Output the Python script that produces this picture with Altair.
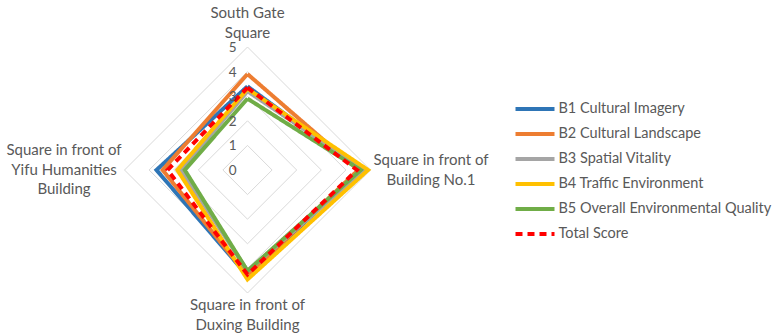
import altair as alt
import pandas as pd

categories = ["South Gate\nSquare", "Square in front of\nBuilding No.1",
              "Square in front of\nDuxing Building",
              "Square in front of\nYifu Humanities\nBuilding"]
series = ["B1 Cultural Imagery", "B2 Cultural Landscape", "B3 Spatial Vitality",
          "B4 Traffic Environment", "B5 Overall Environmental Quality", "Total Score"]
b1 = [3.4, 4.6, 4.3, 3.7]
b2 = [3.9, 4.5, 4.3, 3.45]
b3 = [3.2, 4.75, 4.1, 2.7]
b4 = [3.3, 4.9, 4.45, 2.85]
b5 = [2.9, 4.6, 4.1, 2.55]
total = [3.35, 4.45, 4.25, 3.25]
tick_levels = [0, 1, 2, 3, 4, 5]
colors = ["#2E75B6", "#ED7D31", "#A5A5A5", "#FFC000", "#70AD47", "#FF0000"]
dashes = [[1, 0], [1, 0], [1, 0], [1, 0], [1, 0], [7, 5]]
widths = [4, 4, 4, 4, 4, 2.5]

FONT = "Lato"
TXT = "#595959"

rows = []
for name, vals in zip(series, [b1, b2, b3, b4, b5, total]):
    for i in range(5):
        rows.append({"series": name, "k": i % 4, "order": i, "value": vals[i % 4]})
df = pd.DataFrame(rows)

grid_rows = []
for lv in tick_levels[1:]:
    for i in range(5):
        grid_rows.append({"level": lv, "k": i % 4, "order": i, "value": lv})
grid_df = pd.DataFrame(grid_rows)

tick_df = pd.DataFrame({"level": tick_levels, "label": [str(t) for t in tick_levels]})
cat_df = pd.DataFrame({"k": list(range(4)), "cat": categories, "value": [5] * 4})

xs = alt.Scale(domain=[-5, 5], nice=False, zero=False)
ys = alt.Scale(domain=[-5, 5], nice=False, zero=False)

def polar(ch):
    return ch.transform_calculate(
        px="datum.value * sin(datum.k * PI / 2)",
        py="datum.value * cos(datum.k * PI / 2)")

leg = dict(orient="none", legendX=389, legendY=52, title=None,
           symbolType="stroke", symbolSize=1521,
           symbolStrokeWidth=3.2, labelFontSize=14.5,
           labelFont=FONT, labelColor=TXT, labelOffset=2,
           clipHeight=20, rowPadding=5, padding=0, labelLimit=400)

grid = polar(alt.Chart(grid_df)).mark_line(color="#D9D9D9", strokeWidth=1).encode(
    x=alt.X("px:Q", scale=xs, axis=None),
    y=alt.Y("py:Q", scale=ys, axis=None),
    detail="level:N",
    order="order:Q")

lines = polar(alt.Chart(df)).mark_line(strokeJoin="miter").encode(
    x=alt.X("px:Q", scale=xs, axis=None),
    y=alt.Y("py:Q", scale=ys, axis=None),
    color=alt.Color("series:N", scale=alt.Scale(domain=series, range=colors),
                    legend=alt.Legend(**leg)),
    strokeDash=alt.StrokeDash("series:N", scale=alt.Scale(domain=series, range=dashes),
                              legend=alt.Legend(**leg)),
    strokeWidth=alt.StrokeWidth("series:N", scale=alt.Scale(domain=series, range=widths),
                                legend=None),
    order="order:Q")

ticks = alt.Chart(tick_df).mark_text(align="right", baseline="middle", dx=-11, dy=1,
                                     font=FONT, fontSize=13.5, color=TXT).encode(
    x=alt.X("zero:Q", scale=xs, axis=None),
    y=alt.Y("level:Q", scale=ys, axis=None),
    text="label:N").transform_calculate(zero="0")

def cat_label(k, **kw):
    return polar(alt.Chart(cat_df).transform_filter(f"datum.k == {k}")).mark_text(
        font=FONT, fontSize=15, color=TXT, lineHeight=19.5, lineBreak="\n",
        align="center", baseline="middle", **kw).encode(
        x=alt.X("px:Q", scale=xs, axis=None),
        y=alt.Y("py:Q", scale=ys, axis=None),
        text="cat:N")

lab_top = cat_label(0, dy=-34)
lab_right = cat_label(1, dx=60.5, dy=-10)
lab_bottom = cat_label(2, dy=12)
lab_left = cat_label(3, dx=-60.5, dy=-20)

chart = alt.layer(grid, lines, ticks, lab_top, lab_right, lab_bottom, lab_left).properties(
    width=246, height=246,
    autosize=alt.AutoSizeParams(type="none"),
    padding={"left": 124.5, "top": 47, "right": 402.5, "bottom": 43},
    background="white"
).configure_view(stroke=None)

chart.save("out.html", embed_options={"renderer": "svg", "actions": False})
